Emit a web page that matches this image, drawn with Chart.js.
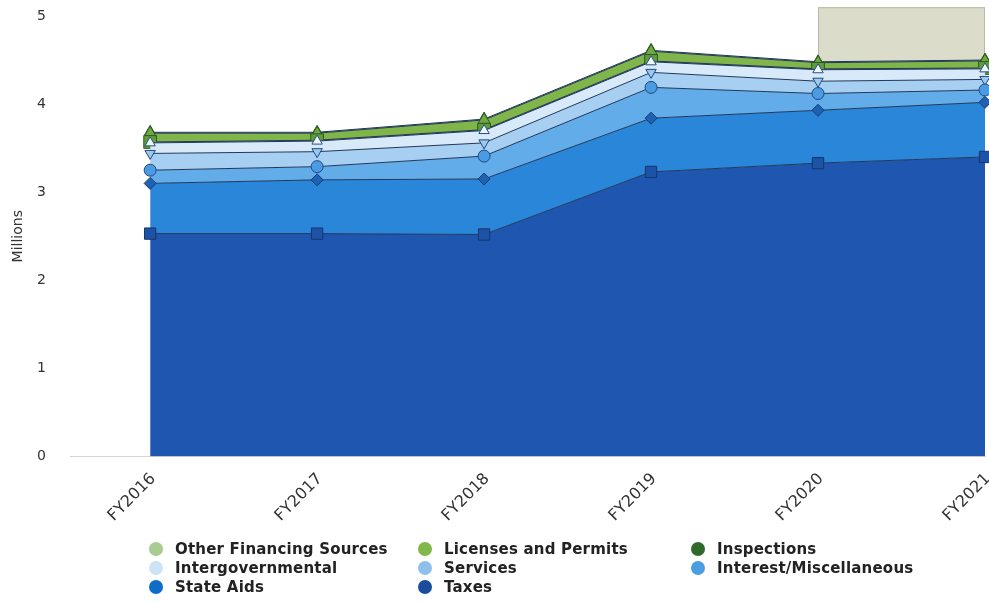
<!DOCTYPE html>
<html lang="en">
<head>
    <meta charset="UTF-8">
    <title>Revenue by Source</title>
    <script src="https://cdn.jsdelivr.net/npm/chart.js@4.4.1/dist/chart.umd.min.js"></script>
    <style>
        html, body {
            margin: 0;
            padding: 0;
            background: #fff;
        }
        .wrap {
            position: relative;
            width: 989px;
            height: 602px;
        }
        #legend {
            position: absolute;
            left: 149px;
            top: 540px;
            display: grid;
            grid-template-columns: 269px 273px auto;
            row-gap: 1px;
            font-family: 'DejaVu Sans', Verdana, sans-serif;
            font-weight: bold;
            font-size: 15px;
            letter-spacing: 0.2px;
            color: #222;
        }
        #legend .item {
            display: flex;
            align-items: center;
            height: 18px;
            white-space: nowrap;
        }
        #legend .dot {
            width: 14px;
            height: 14px;
            border-radius: 50%;
            margin-right: 12px;
        }
    </style>
</head>
<body>
    <div class="wrap">
        <canvas id="chart" width="989" height="602"></canvas>
        <div id="legend"></div>
    </div>
    <script>
        const years = ['FY2016', 'FY2017', 'FY2018', 'FY2019', 'FY2020', 'FY2021'];

        // millions, stacked bottom to top
        const taxes = [2.53, 2.53, 2.52, 3.23, 3.33, 3.40];
        const stateAids = [0.57, 0.61, 0.63, 0.61, 0.60, 0.62];
        const interestMisc = [0.15, 0.15, 0.26, 0.35, 0.19, 0.14];
        const services = [0.19, 0.17, 0.15, 0.17, 0.14, 0.12];
        const intergovernmental = [0.12, 0.12, 0.14, 0.12, 0.13, 0.12];
        const inspections = [0.01, 0.01, 0.01, 0.01, 0.01, 0.01];
        const licensesPermits = [0.10, 0.08, 0.11, 0.11, 0.07, 0.08];
        const otherFinancing = [0.01, 0.01, 0.01, 0.01, 0.01, 0.01];

        const yTicks = [0, 1, 2, 3, 4, 5];

        // grey box behind the top of FY2020-FY2021
        const boxFrom = 4, boxTo = 5, boxLow = 4.47, boxHigh = 5.1;

        const series = [
            { label: 'Taxes', data: taxes, fill: '#1f57b0', dot: '#1b4b9c', pt: 'rect', r: 8, ptFill: '#1d52a6', ptLine: '#16366e', rot: 0 },
            { label: 'State Aids', data: stateAids, fill: '#2a86d8', dot: '#0f6dc9', pt: 'rectRot', r: 6, ptFill: '#1f62b4', ptLine: '#1b3c70', rot: 0 },
            { label: 'Interest/Miscellaneous', data: interestMisc, fill: '#62ace9', dot: '#4b9de3', pt: 'circle', r: 6, ptFill: '#4a9be2', ptLine: '#1f4a82', rot: 0 },
            { label: 'Services', data: services, fill: '#a6cff2', dot: '#8fc0ec', pt: 'triangle', r: 6, ptFill: '#9cc8ee', ptLine: '#1f4a82', rot: 180 },
            { label: 'Intergovernmental', data: intergovernmental, fill: '#d8e9f9', dot: '#cde3f7', pt: 'triangle', r: 6, ptFill: '#eef5fc', ptLine: '#2a4f80', rot: 0 },
            { label: 'Inspections', data: inspections, fill: '#2e6b2c', dot: '#2f6a2b', pt: 'rect', r: 9, ptFill: '#5f9c3c', ptLine: '#2c5a22', rot: 0 },
            { label: 'Licenses and Permits', data: licensesPermits, fill: '#80b54a', dot: '#82b74a', pt: 'triangle', r: 7, ptFill: '#6fa842', ptLine: '#2c5a22', rot: 0 },
            { label: 'Other Financing Sources', data: otherFinancing, fill: '#a9cf8d', dot: '#a9cc93', pt: 'triangle', r: 7, ptFill: '#6fa842', ptLine: '#2c5a22', rot: 0 }
        ];

        const datasets = series.map((s, i) => ({
            label: s.label,
            data: s.data.map((v, j) => ({ x: j, y: v })),
            backgroundColor: s.fill,
            borderColor: '#22385a',
            borderWidth: 1,
            fill: i === 0 ? 'origin' : '-1',
            tension: 0,
            clip: false,
            pointStyle: s.pt,
            pointRadius: s.r,
            pointRotation: s.rot,
            pointBackgroundColor: s.ptFill,
            pointBorderColor: s.ptLine,
            pointBorderWidth: 1
        }));

        const boxPlugin = {
            id: 'greyBox',
            beforeDatasetsDraw(chart) {
                const { ctx, scales: { x, y } } = chart;
                const x0 = x.getPixelForValue(boxFrom), x1 = x.getPixelForValue(boxTo);
                const y0 = y.getPixelForValue(boxHigh), y1 = y.getPixelForValue(boxLow);
                ctx.save();
                ctx.fillStyle = '#dcdccb';
                ctx.fillRect(x0, y0, x1 - x0, y1 - y0);
                ctx.strokeStyle = '#b9b9a8';
                ctx.lineWidth = 1;
                ctx.strokeRect(x0 + 0.5, y0 + 0.5, x1 - x0 - 1, y1 - y0 - 1);
                ctx.restore();
            }
        };

        const chart = new Chart(document.getElementById('chart'), {
            type: 'line',
            data: { datasets },
            plugins: [boxPlugin],
            options: {
                responsive: false,
                animation: false,
                layout: { autoPadding: false, padding: { top: 16, right: 4, left: 0, bottom: 0 } },
                plugins: {
                    legend: { display: false },
                    tooltip: { enabled: false }
                },
                scales: {
                    x: {
                        type: 'linear',
                        min: -0.48,
                        max: 5,
                        grid: { display: false },
                        border: { color: '#d4d4d4' },
                        afterFit: s => {
                            s.height = 145.5;
                            s.paddingLeft = 0;
                            s.paddingRight = 0;
                        },
                        afterBuildTicks: s => { s.ticks = years.map((_, i) => ({ value: i })); },
                        ticks: {
                            autoSkip: false,
                            minRotation: 45,
                            maxRotation: 45,
                            padding: 5,
                            labelOffset: 3,
                            color: '#333',
                            font: { family: 'DejaVu Sans', size: 16 },
                            callback: v => years[v]
                        }
                    },
                    y: {
                        stacked: true,
                        min: 0,
                        max: 5,
                        afterFit: s => {
                            s.width = 70;
                            s.paddingTop = 0;
                            s.paddingBottom = 0;
                        },
                        afterBuildTicks: s => { s.ticks = yTicks.map(v => ({ value: v })); },
                        grid: { display: false },
                        border: { display: false },
                        ticks: {
                            padding: 16,
                            color: '#333',
                            font: { family: 'DejaVu Sans', size: 14 }
                        },
                        title: {
                            display: true,
                            text: 'Millions',
                            color: '#333',
                            padding: { top: 10, bottom: 0 },
                            font: { family: 'DejaVu Sans', size: 14 }
                        }
                    }
                }
            }
        });

        // legend, read row by row: top of stack first
        const legend = document.getElementById('legend');
        series.slice().reverse().forEach(s => {
            const item = document.createElement('div');
            item.className = 'item';
            item.innerHTML = `<span class="dot" style="background:${s.dot}"></span><span>${s.label}</span>`;
            legend.appendChild(item);
        });
    </script>
</body>
</html>
